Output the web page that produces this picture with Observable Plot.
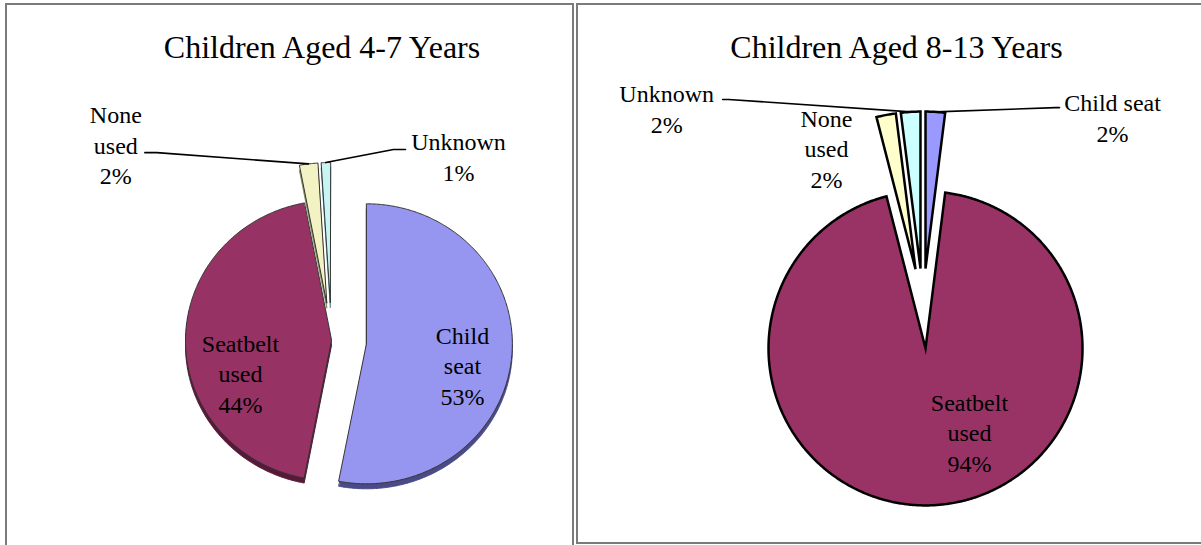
<!DOCTYPE html>
<html><head><meta charset="utf-8">
<script src="https://cdn.jsdelivr.net/npm/d3@7"></script>
<script src="https://cdn.jsdelivr.net/npm/@observablehq/plot@0.6"></script>
<style>
html,body{margin:0;padding:0;background:#fff;overflow:hidden;}
#wrap{position:relative;width:1201px;height:545px;overflow:hidden;background:#fff;}
#chart{position:absolute;left:0;top:0;}
#chart svg, #chart text{font-family:'Liberation Serif','Times New Roman',serif;}
.panel{position:absolute;border:2px solid #7b7b7b;box-sizing:border-box;pointer-events:none;z-index:2;}
</style></head><body>
<div id="wrap"><div id="chart"></div>
<div class="panel" style="left:5px;top:3px;width:569px;height:640px"></div>
<div class="panel" style="left:576px;top:3px;width:700px;height:541px"></div>
</div>
<script>
// ---------- data ----------
const categories = ["Child seat", "Seatbelt used", "None used", "Unknown"];
const title1 = "Children Aged 4-7 Years";
const values1 = [53, 44, 2, 1];
const labels1 = ["Child\nseat", "Seatbelt\nused", "None\nused", "Unknown"];
const title2 = "Children Aged 8-13 Years";
const values2 = [2, 94, 2, 2];
const labels2 = ["Child seat", "Seatbelt\nused", "None\nused", "Unknown"];

// ---------- styles / layout ----------
const W = 1201, H = 545;
const font = "'Liberation Serif', 'Times New Roman', serif";
const layout1 = {
  titleX: 321.5, titleY: 47, cx: 331, cy: 340, rx: 146, ry: 140, depth: 5,
  explode: [35, 0, 38, 38],
  fills: ["#9696F0", "#963264", "#F2F2C4", "#C8F4F4"],
  shades: ["#4a4a86", "#561a38", "#8f8f66", "#6d9999"],
  stroke: "#333", strokeWidth: 1, join: "round",
  label: [{a: 102.7, f: 0.675}, {a: 249.8, f: 0.664}, {a: 308.2, f: 1.838}, {a: 39.9, f: 1.369}],
  leader: [null, null, {dx: 29, dy: 9, elbow: 12}, {dx: -53, dy: -6, elbow: -12}]
};
const layout2 = {
  titleX: 896, titleY: 47, cx: 922.5, cy: 308, rx: 157, ry: 157, depth: 0,
  explode: [40, 40, 40, 40],
  fills: ["#9999FF", "#993366", "#FFFFCC", "#CCFFFF"],
  shades: null,
  stroke: "#000", strokeWidth: 2.5, join: "miter",
  label: [{a: 50.9, f: 1.535}, {a: 152.1, f: 0.598}, {a: 323.8, f: 0.960}, {a: 302.4, f: 1.915}],
  leader: [{dx: -53, dy: -9, elbow: -4}, null, null, {dx: 56, dy: -8, elbow: 6}]
};
const pies = [
  {title: title1, values: values1, labels: labels1, L: layout1},
  {title: title2, values: values2, labels: labels2, L: layout2}
];

const rad = d => d * Math.PI / 180;
const shadowMarks = [], sliceMarks = [], lineMarks = [], textMarks = [];

for (const P of pies) {
  const L = P.L;
  const arcs = d3.pie().sort(null)(P.values);
  const texts = [];
  arcs.forEach((a, i) => {
    const mid = (a.startAngle + a.endAngle) / 2;
    const ax = L.cx + L.explode[i] * Math.sin(mid);
    const ay = L.cy - L.explode[i] * Math.cos(mid);
    const pt = (ang, f) => ({x: ax + L.rx * f * Math.sin(ang), y: ay - L.ry * f * Math.cos(ang)});
    const pts = [{x: ax, y: ay}];
    const n = Math.max(2, Math.ceil((a.endAngle - a.startAngle) / rad(0.5)));
    for (let k = 0; k <= n; k++) pts.push(pt(a.startAngle + (a.endAngle - a.startAngle) * k / n, 1));
    if (L.depth > 0) {
      shadowMarks.push(Plot.line(pts.map(p => ({x: p.x, y: p.y + L.depth})),
        {x: "x", y: "y", curve: "linear-closed", fill: L.shades[i], stroke: L.shades[i], strokeWidth: 1}));
    }
    sliceMarks.push(Plot.line(pts, {x: "x", y: "y", curve: "linear-closed", fill: L.fills[i],
      stroke: L.stroke, strokeWidth: L.strokeWidth, strokeLinejoin: L.join, strokeMiterlimit: 10}));
    const lp = pt(rad(L.label[i].a), L.label[i].f);
    texts.push({x: lp.x, y: lp.y, text: `${P.labels[i]}\n${P.values[i]}%`});
    const ld = L.leader[i];
    if (ld) {
      const s = {x: lp.x + ld.dx, y: lp.y + ld.dy};
      const e = {x: s.x + ld.elbow, y: s.y};
      const o = pt(mid, 1);
      lineMarks.push(Plot.line([s, e, o], {x: "x", y: "y", stroke: "#000", strokeWidth: 1.6, strokeLinejoin: "miter"}));
    }
  });
  textMarks.push(Plot.text(texts, {x: "x", y: "y", text: "text", fontSize: 24, fontFamily: font,
    lineHeight: 1.28, textAnchor: "middle", lineAnchor: "middle", fill: "#000"}));
  textMarks.push(Plot.text([{x: L.titleX, y: L.titleY, t: P.title}], {x: "x", y: "y", text: "t",
    fontSize: 32, fontFamily: font, textAnchor: "middle", lineAnchor: "middle", fill: "#000"}));
}

const chart = Plot.plot({
  width: W, height: H, margin: 0,
  style: {background: "transparent", overflow: "visible", fontFamily: font},
  x: {domain: [0, W], range: [0, W], axis: null},
  y: {domain: [0, H], range: [0, H], axis: null},
  marks: [...shadowMarks, ...sliceMarks, ...lineMarks, ...textMarks]
});
document.getElementById("chart").appendChild(chart);
</script>
</body></html>
